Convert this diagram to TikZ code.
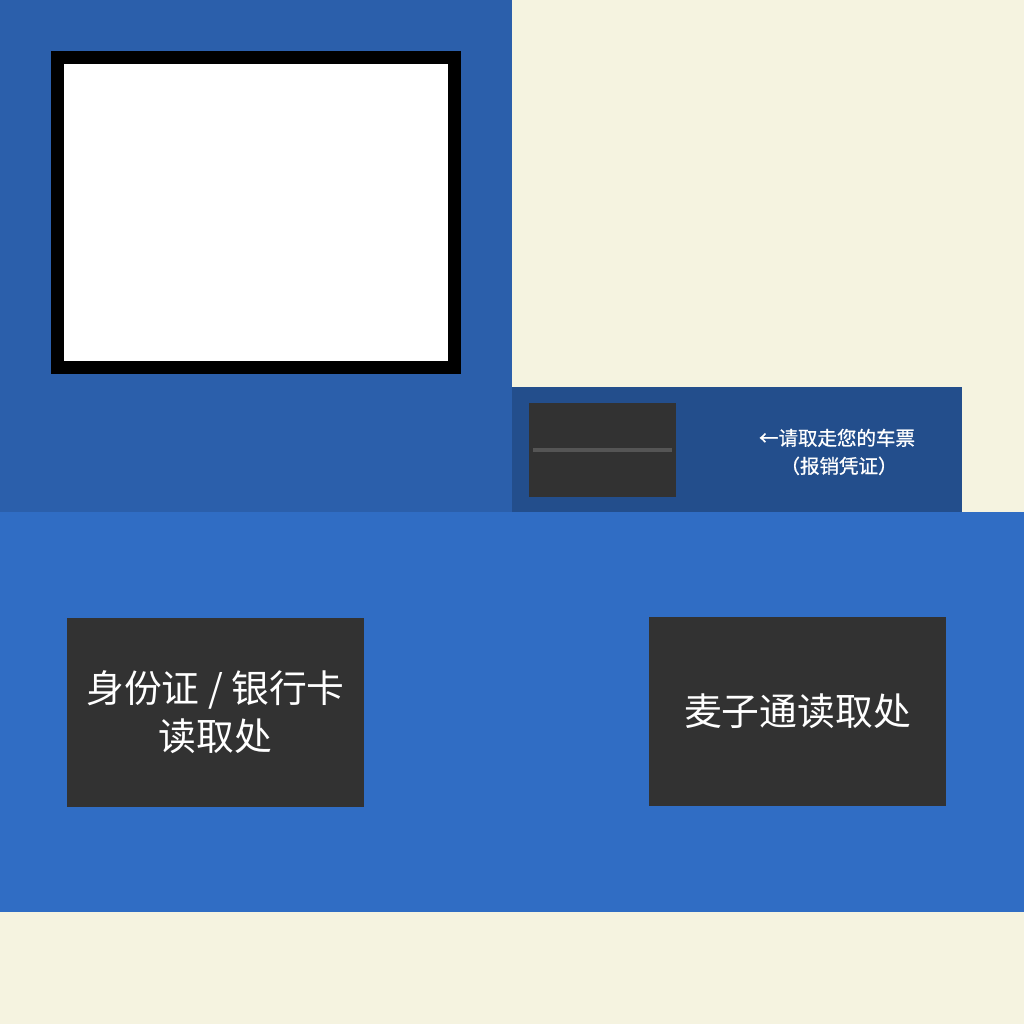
\documentclass[tikz,border=0pt]{standalone}
\usepackage{fontspec}
\setmainfont{Noto Sans CJK SC}
\newfontfamily\cjk{Noto Sans CJK SC}
\newfontfamily\cjkmed[FakeBold=0.8]{Noto Sans CJK SC}
\definecolor{cream}{HTML}{F5F3E0}
\definecolor{topblue}{HTML}{2B5FAB}
\definecolor{lowblue}{HTML}{306DC4}
\definecolor{panelblue}{HTML}{234E8C}
\definecolor{darkbox}{HTML}{323232}
\definecolor{slotline}{HTML}{555555}
\tikzset{
  readerbox/.style={fill=darkbox, draw=none, text=white, align=center, font=\cjk\fontsize{37.8}{48}\selectfont},
  smalltext/.style={text=white, align=center, font=\cjkmed\fontsize{19.5}{28}\selectfont},
}
\begin{document}
\begin{tikzpicture}[x=1pt,y=-1pt]
\useasboundingbox (0,0) rectangle (1024,1024);
\fill[cream] (0,0) rectangle (1024,1024);
\fill[topblue] (0,0) rectangle (512,512);
\fill[lowblue] (0,512) rectangle (1024,912);
\fill[panelblue] (512,387) rectangle (962,512);
% screen
\draw[line width=13pt, fill=white] (57.5,57.5) rectangle (454.5,367.5);
% ticket slot
\node[fill=darkbox, minimum width=147pt, minimum height=94pt, inner sep=0pt] (slot) at (602.5,450) {};
\fill[slotline] (533,448) rectangle (672,451.5);
\node[smalltext] (ticket) at (837,452) {←请取走您的车票\\\hspace*{4pt}（报销凭证）};
% readers
\node[readerbox, minimum width=297pt, minimum height=189pt, inner sep=0pt] (idcard) at (215.5,712.5) {身份证 / 银行卡\\读取处};
\node[readerbox, minimum width=297pt, minimum height=189pt, inner sep=0pt] (mai) at (797.5,711.5) {麦子通读取处};
\end{tikzpicture}
\end{document}
